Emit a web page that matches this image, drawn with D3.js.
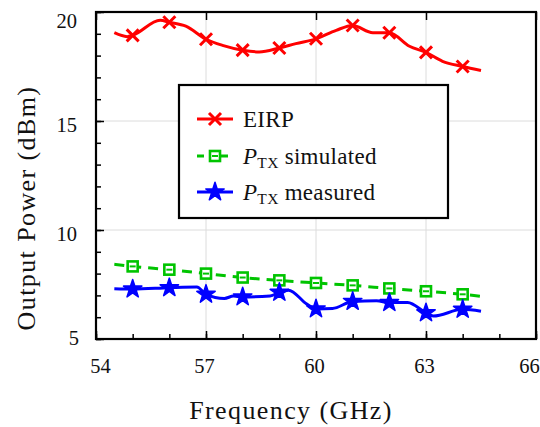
<!DOCTYPE html>
<html>
<head>
<meta charset="utf-8">
<script src="https://cdn.jsdelivr.net/npm/d3@7"></script>
</head>
<body style="margin:0">
<svg id="chart" width="540" height="427"></svg>
<script>
// data
var eirpFreq = [54.5, 54.85, 55, 55.75, 56, 56.45, 57, 57.45, 58, 58.45, 59, 59.45, 60, 60.55, 61, 61.55, 62, 62.55, 63, 63.45, 64, 64.5];
var eirpVal  = [19.05, 18.87, 18.93, 19.62, 19.53, 19.35, 18.75, 18.47, 18.25, 18.17, 18.35, 18.55, 18.77, 19.16, 19.38, 19.05, 19.05, 18.43, 18.15, 17.74, 17.5, 17.32];

var simFreq = [54.5, 55, 56, 57, 58, 59, 60, 61, 62, 63, 64, 64.5];
var simVal  = [8.43, 8.33, 8.18, 8.0, 7.82, 7.69, 7.57, 7.46, 7.32, 7.19, 7.05, 6.96];

var measFreq = [54.5, 55, 56, 56.75, 57, 57.5, 57.75, 58, 58.75, 59, 59.25, 59.75, 60, 60.45, 61, 61.65, 62, 62.5, 63, 63.2, 64, 64.5];
var measVal  = [7.31, 7.29, 7.35, 7.38, 7.05, 6.86, 6.97, 6.93, 6.97, 7.14, 7.24, 6.6, 6.38, 6.4, 6.72, 6.75, 6.67, 6.68, 6.2, 6.05, 6.36, 6.27];

var xTicks = [54, 57, 60, 63, 66];
var yTicks = [5, 10, 15, 20];

var FONT = "'Liberation Serif'";
var RED = "#ff0000", GREEN = "#00c400", BLUE = "#0000ff";

var W = 540, H = 427;
var margin = {top: 12, right: 4, bottom: 88, left: 96},
    width = W - margin.left - margin.right,
    height = H - margin.top - margin.bottom;

var root = d3.select("#chart");
var svg = root.append("g")
    .attr("transform", "translate(" + margin.left + "," + margin.top + ")");

var x = d3.scaleLinear().domain([54, 66]).range([0, width]);
var y = d3.scaleLinear().domain([5, 20]).range([height, 0]);

// grid
svg.selectAll(".gx")
  .data(xTicks.slice(1, -1))
  .enter().append("line")
    .attr("x1", function(d) { return x(d); })
    .attr("x2", function(d) { return x(d); })
    .attr("y1", 0).attr("y2", height)
    .attr("stroke", "#dcdcdc").attr("stroke-width", 1);
svg.selectAll(".gy")
  .data(yTicks.slice(1, -1))
  .enter().append("line")
    .attr("y1", function(d) { return y(d); })
    .attr("y2", function(d) { return y(d); })
    .attr("x1", 0).attr("x2", width)
    .attr("stroke", "#dcdcdc").attr("stroke-width", 1);

// axes with inward ticks
function styleAxis(g) {
  g.attr("font-family", null).attr("font-size", null);
  g.select(".domain").remove();
  g.selectAll(".tick line").attr("stroke", "#000").attr("stroke-width", 1.5);
  g.selectAll("text").style("font-family", FONT).attr("font-size", 20.5).attr("fill", "#111");
}
svg.append("g")
  .attr("transform", "translate(0," + height + ")")
  .call(d3.axisBottom(x).tickValues(d3.range(54, 67, 1)).tickSize(-5).tickFormat(""))
  .call(styleAxis);
var xAxis = svg.append("g")
  .attr("transform", "translate(0," + height + ")")
  .call(d3.axisBottom(x).tickValues(xTicks).tickSize(-8).tickPadding(19).tickFormat(d3.format("d")))
  .call(styleAxis);
// end labels pulled inside like the reference
xAxis.selectAll(".tick text").attr("dx", function(d) { return d === 54 ? 4 : d === 66 ? -7 : -2; });
svg.append("g")
  .call(d3.axisTop(x).tickValues(xTicks).tickSize(-8).tickFormat(""))
  .call(styleAxis);
svg.append("g")
  .call(d3.axisLeft(y).tickValues(d3.range(5, 21, 1)).tickSize(-5).tickFormat(""))
  .call(styleAxis);
var yAxis = svg.append("g")
  .call(d3.axisLeft(y).tickValues(yTicks).tickSize(-8).tickPadding(19).tickFormat(d3.format("d")))
  .call(styleAxis);
yAxis.selectAll(".tick text")
  .attr("dy", function(d) { return d === 20 ? "0.77em" : d === 5 ? "0.25em" : "0.52em"; })
  .attr("dx", function(d) { return d === 5 ? 2 : 0; });

svg.append("rect")
  .attr("width", width).attr("height", height)
  .attr("fill", "none").attr("stroke", "#000").attr("stroke-width", 2.2);

// lines
var line = d3.line()
  .x(function(d) { return x(d[0]); })
  .y(function(d) { return y(d[1]); })
  .curve(d3.curveMonotoneX);

function zip(a, b) { return a.map(function(v, i) { return [v, b[i]]; }); }
function onInt(pts) { return pts.filter(function(d) { return Math.abs(d[0] - Math.round(d[0])) < 1e-6; }); }

var eirp = zip(eirpFreq, eirpVal), sim = zip(simFreq, simVal), meas = zip(measFreq, measVal);

var starPath = d3.symbol().type(d3.symbolStar).size(105)();
var crossPath = "M-6,-6L6,6M-6,6L6,-6";

function drawCross(g, px, py) {
  g.append("path").attr("d", crossPath)
    .attr("transform", "translate(" + px + "," + py + ")")
    .attr("stroke", RED).attr("stroke-width", 3).attr("fill", "none");
}
function drawSquare(g, px, py) {
  g.append("rect").attr("x", px - 5).attr("y", py - 5).attr("width", 10).attr("height", 10)
    .attr("fill", "#fff").attr("stroke", GREEN).attr("stroke-width", 2.6);
  g.append("line").attr("x1", px - 3).attr("x2", px + 3).attr("y1", py).attr("y2", py)
    .attr("stroke", GREEN).attr("stroke-width", 2);
}
function drawStar(g, px, py) {
  g.append("path").attr("d", starPath)
    .attr("transform", "translate(" + px + "," + py + ")")
    .attr("fill", BLUE).attr("stroke", BLUE).attr("stroke-width", 1.5).attr("stroke-linejoin", "round");
}

svg.append("path").datum(eirp).attr("d", line)
  .attr("fill", "none").attr("stroke", RED).attr("stroke-width", 3);
onInt(eirp).forEach(function(d) { drawCross(svg, x(d[0]), y(d[1])); });

svg.append("path").datum(sim).attr("d", line)
  .attr("fill", "none").attr("stroke", GREEN).attr("stroke-width", 3)
  .attr("stroke-dasharray", "10,7");
onInt(sim).forEach(function(d) { drawSquare(svg, x(d[0]), y(d[1])); });

svg.append("path").datum(meas).attr("d", line)
  .attr("fill", "none").attr("stroke", BLUE).attr("stroke-width", 3);
onInt(meas).forEach(function(d) { drawStar(svg, x(d[0]), y(d[1])); });

// legend
var lg = svg.append("g").attr("transform", "translate(" + (179 - margin.left) + "," + (85 - margin.top) + ")");
lg.append("rect").attr("width", 269).attr("height", 133)
  .attr("fill", "#fff").attr("stroke", "#000").attr("stroke-width", 2.2);

var rows = [34, 71, 107];
lg.append("line").attr("x1", 18).attr("x2", 54).attr("y1", rows[0]).attr("y2", rows[0])
  .attr("stroke", RED).attr("stroke-width", 3);
drawCross(lg, 36, rows[0]);
lg.append("line").attr("x1", 18).attr("x2", 54).attr("y1", rows[1]).attr("y2", rows[1])
  .attr("stroke", GREEN).attr("stroke-width", 3).attr("stroke-dasharray", "7,5");
drawSquare(lg, 36, rows[1]);
lg.append("line").attr("x1", 18).attr("x2", 54).attr("y1", rows[2]).attr("y2", rows[2])
  .attr("stroke", BLUE).attr("stroke-width", 3);
drawStar(lg, 36, rows[2]);

lg.append("text").attr("x", 64).attr("y", rows[0] + 8)
  .style("font-family", FONT).attr("font-size", 23).attr("letter-spacing", 0.3)
  .attr("fill", "#111").text("EIRP");
function ptx(t, yy) {
  var tx = lg.append("text").attr("x", 64).attr("y", yy + 8)
    .style("font-family", FONT).attr("font-size", 23).attr("letter-spacing", 0.3)
    .attr("fill", "#111");
  tx.append("tspan").attr("font-style", "italic").text("P");
  tx.append("tspan").attr("dy", 4).attr("font-size", 15.5).text("TX");
  tx.append("tspan").attr("dy", -4).text(" " + t);
}
ptx("simulated", rows[1]);
ptx("measured", rows[2]);

// axis titles
svg.append("text")
  .attr("x", 291 - margin.left).attr("y", 419 - margin.top)
  .attr("text-anchor", "middle")
  .style("font-family", FONT).attr("font-size", 26).attr("letter-spacing", 1.4)
  .attr("fill", "#111")
  .text("Frequency (GHz)");
svg.append("text")
  .attr("transform", "translate(" + (35 - margin.left) + "," + (208 - margin.top) + ") rotate(-90)")
  .attr("text-anchor", "middle")
  .style("font-family", FONT).attr("font-size", 26).attr("letter-spacing", 1.4)
  .attr("fill", "#111")
  .text("Output Power (dBm)");
</script>
</body>
</html>
